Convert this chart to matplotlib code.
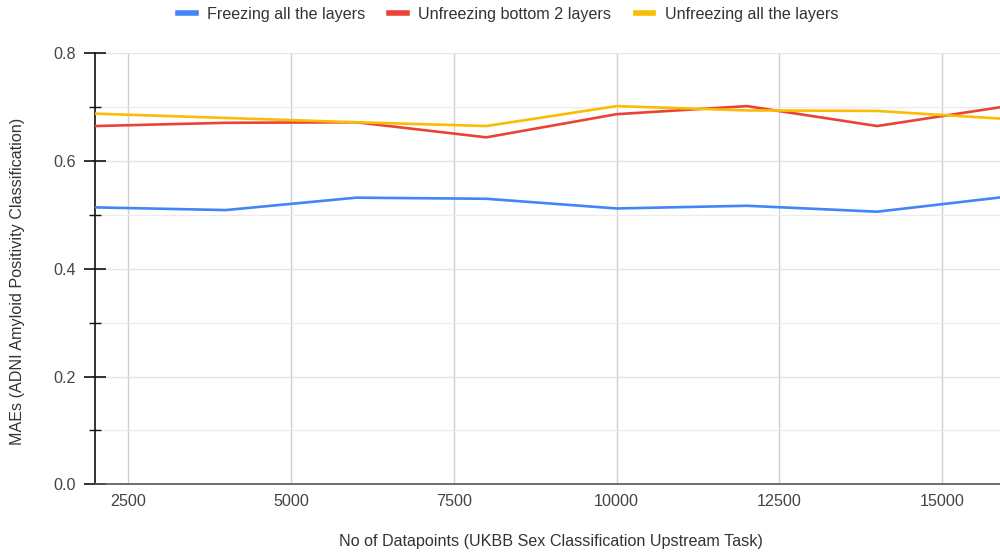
import matplotlib
matplotlib.use("Agg")
import matplotlib.pyplot as plt
from matplotlib.ticker import MultipleLocator

plt.rcParams['font.family'] = ['Liberation Sans', 'DejaVu Sans']

datapoints = [2000, 4000, 6000, 8000, 10000, 12000, 14000, 16000]
freezing_all = [0.514, 0.509, 0.532, 0.530, 0.512, 0.517, 0.506, 0.534]
unfreeze_bottom2 = [0.665, 0.671, 0.672, 0.644, 0.687, 0.702, 0.665, 0.702]
unfreeze_all = [0.688, 0.680, 0.672, 0.665, 0.702, 0.694, 0.693, 0.678]

series_names = ["Freezing all the layers", "Unfreezing bottom 2 layers", "Unfreezing all the layers"]
colors = ["#4285F4", "#EA4335", "#FBBC04"]
x_ticks = [2500, 5000, 7500, 10000, 12500, 15000]
y_ticks = [0.0, 0.2, 0.4, 0.6, 0.8]

FS = 11.6

fig = plt.figure(figsize=(10, 5.52), dpi=100)
ax = fig.add_axes([0.0954, 1 - 484.3 / 552, 1 - 0.0954, (484.3 - 53.3) / 552])

for vals, name, c in zip([freezing_all, unfreeze_bottom2, unfreeze_all], series_names, colors):
    ax.plot(datapoints, vals, color=c, lw=1.9, label=name, solid_joinstyle='round', zorder=3)

ax.set_xlim(2000, 15885)
ax.set_ylim(0, 0.8)
ax.set_xticks(x_ticks)
ax.set_xticklabels([str(t) for t in x_ticks])
ax.set_yticks(y_ticks)
ax.set_yticklabels([f"{t:.1f}" for t in y_ticks])
ax.yaxis.set_minor_locator(MultipleLocator(0.1))

# grid
ax.grid(axis='x', which='major', color='#d0d0d0', lw=1.0, zorder=0)
ax.grid(axis='y', which='major', color='#e4e4e4', lw=1.0, zorder=0)
ax.grid(axis='y', which='minor', color='#ececec', lw=1.0, zorder=0)

for s in ['top', 'right']:
    ax.spines[s].set_visible(False)
ax.spines['left'].set_color('#111111')
ax.spines['left'].set_linewidth(1.2)
ax.spines['bottom'].set_color('#555555')
ax.spines['bottom'].set_linewidth(1.2)

ax.tick_params(axis='y', which='major', direction='inout', length=16, width=1.2, color='#111111',
               labelsize=FS, labelcolor='#444444', pad=6)
ax.tick_params(axis='y', which='minor', direction='inout', length=8, width=1.0, color='#111111')
ax.tick_params(axis='x', which='major', length=0, labelsize=FS, labelcolor='#444444', pad=7)

ax.set_xlabel("No of Datapoints (UKBB Sex Classification Upstream Task)", fontsize=FS,
              color='#333333')
ax.xaxis.set_label_coords((551 - 95.4) / (1000 - 95.4), -(534 - 484.3) / 431)
ax.set_ylabel("MAEs (ADNI Amyloid Positivity Classification)", fontsize=FS, color='#333333')
ax.yaxis.set_label_coords(-(95.4 - 25) / 904.6, 0.47)

leg = fig.legend(loc='center', bbox_to_anchor=(0.508, 1 - 14 / 552), ncol=3, frameon=False,
                 fontsize=FS, handlelength=1.1, handletextpad=0.7, columnspacing=1.5)
for line in leg.get_lines():
    line.set_linewidth(4)
for t in leg.get_texts():
    t.set_color('#333333')

fig.savefig("out.png", dpi=100)
